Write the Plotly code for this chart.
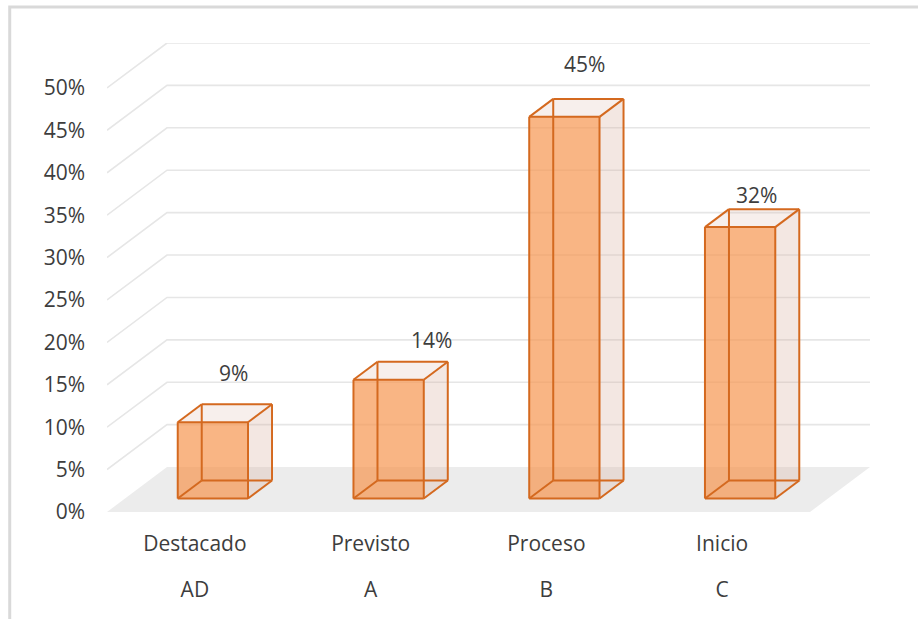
import plotly.graph_objects as go

# ---- data ----
categories = ["Destacado", "Previsto", "Proceso", "Inicio"]
levels = ["AD", "A", "B", "C"]
values = [9, 14, 45, 32]            # percent
value_labels = ["9%", "14%", "45%", "32%"]
y_ticks = [0, 5, 10, 15, 20, 25, 30, 35, 40, 45, 50]
y_tick_text = [f"{v}%" for v in y_ticks]

# ---- pseudo-3D (oblique) geometry ----
DEPTH_X = 0.3414      # horizontal shift of full floor depth, in category units
DEPTH_Y = 5.3         # vertical shift of full floor depth, in percent units
Y_MAX = 50
BAR_C0, BAR_C1 = 0.3, 0.7   # bar extent inside its category slot
BAR_D0, BAR_D1 = 0.3, 0.7   # bar extent along the depth axis
N = len(categories)

# nudges (pixels) for the value labels above each bar
label_nudge = [(-3, 31), (19, 22), (-4, 35), (-8, 14)]

EDGE = "#D4691F"
FRONT = "rgba(247,150,80,0.70)"
SIDE = "rgba(215,175,160,0.30)"
TOP = "rgba(215,175,160,0.20)"
GRID = "#e6e6e6"
FLOOR = "#ececec"
TEXT = "#3d3d3d"
FONT = "Open Sans"
FSIZE = 21


def proj(c, d, v):
    """Project (category, depth, value) onto the 2D plot plane."""
    return c + d * DEPTH_X, v + d * DEPTH_Y


def poly(points):
    xs, ys = [], []
    for c, d, v in points:
        x, y = proj(c, d, v)
        xs.append(x)
        ys.append(y)
    xs.append(xs[0])
    ys.append(ys[0])
    return xs, ys


fig = go.Figure()

# floor
fx, fy = poly([(0, 0, 0), (N, 0, 0), (N, 1, 0), (0, 1, 0)])
fig.add_trace(go.Scatter(x=fx, y=fy, fill="toself", fillcolor=FLOOR,
                         mode="lines", line=dict(width=0), hoverinfo="skip"))

# gridlines on side wall and back wall
gx, gy = [], []
for v in y_ticks[1:]:
    for c, d in [(0, 0), (0, 1), (N, 1)]:
        x, y = proj(c, d, v)
        gx.append(x)
        gy.append(y)
    gx.append(None)
    gy.append(None)
fig.add_trace(go.Scatter(x=gx, y=gy, mode="lines",
                         line=dict(color=GRID, width=1.6), hoverinfo="skip"))

# bars
for i, v in enumerate(values):
    c0, c1 = i + BAR_C0, i + BAR_C1
    d0, d1 = BAR_D0, BAR_D1

    # right side face
    sx, sy = poly([(c1, d0, 0), (c1, d1, 0), (c1, d1, v), (c1, d0, v)])
    fig.add_trace(go.Scatter(x=sx, y=sy, fill="toself", fillcolor=SIDE,
                             mode="lines", line=dict(width=0), hoverinfo="skip"))
    # top face
    tx, ty = poly([(c0, d0, v), (c1, d0, v), (c1, d1, v), (c0, d1, v)])
    fig.add_trace(go.Scatter(x=tx, y=ty, fill="toself", fillcolor=TOP,
                             mode="lines", line=dict(width=0), hoverinfo="skip"))
    # front face
    qx, qy = poly([(c0, d0, 0), (c1, d0, 0), (c1, d0, v), (c0, d0, v)])
    fig.add_trace(go.Scatter(x=qx, y=qy, fill="toself", fillcolor=FRONT,
                             mode="lines", line=dict(width=0), hoverinfo="skip"))

    # all twelve edges of the box
    corners = {}
    for a, c in (("l", c0), ("r", c1)):
        for b, d in (("f", d0), ("b", d1)):
            for h, val in (("0", 0), ("1", v)):
                corners[a + b + h] = proj(c, d, val)
    edges = [
        ("lf0", "rf0"), ("rf0", "rf1"), ("rf1", "lf1"), ("lf1", "lf0"),
        ("lb0", "rb0"), ("rb0", "rb1"), ("rb1", "lb1"), ("lb1", "lb0"),
        ("lf0", "lb0"), ("rf0", "rb0"), ("rf1", "rb1"), ("lf1", "lb1"),
    ]
    ex, ey = [], []
    for a, b in edges:
        ex += [corners[a][0], corners[b][0], None]
        ey += [corners[a][1], corners[b][1], None]
    fig.add_trace(go.Scatter(x=ex, y=ey, mode="lines",
                             line=dict(color=EDGE, width=2), hoverinfo="skip"))

    # value label above the bar
    lx, ly = proj(i + 0.5, d1, v)
    dx, dy = label_nudge[i]
    fig.add_annotation(x=lx, y=ly, text=value_labels[i], showarrow=False,
                       xshift=dx, yshift=dy, xanchor="center", yanchor="middle",
                       font=dict(family=FONT, size=FSIZE, color=TEXT))

cat_pos = [i + 0.5 for i in range(N)]

# frame around the chart area
fig.add_shape(type="rect", xref="paper", yref="paper",
              x0=-0.1275, x1=1.07, y0=-0.25, y1=1.077,
              line=dict(color="#d9d9d9", width=3), fillcolor="rgba(0,0,0,0)",
              layer="below")

fig.update_layout(
    width=918, height=619,
    margin=dict(l=107, r=48, t=43, b=107),
    paper_bgcolor="white", plot_bgcolor="white",
    showlegend=False,
    font=dict(family=FONT, size=FSIZE, color=TEXT),
    xaxis=dict(range=[0, N + DEPTH_X], showgrid=False, zeroline=False,
               showline=False, tickmode="array", tickvals=cat_pos,
               ticktext=categories, ticks="", ticklabelstandoff=17,
               fixedrange=True),
    xaxis2=dict(range=[0, N + DEPTH_X], overlaying="x", anchor="y",
                side="bottom", showgrid=False, zeroline=False, showline=False,
                tickmode="array", tickvals=cat_pos, ticktext=levels,
                ticks="", ticklabelstandoff=63, fixedrange=True),
    yaxis=dict(range=[0, Y_MAX + DEPTH_Y], showgrid=False, zeroline=False,
               showline=False, tickmode="array", tickvals=y_ticks,
               ticktext=y_tick_text, ticks="", ticklabelstandoff=21,
               fixedrange=True),
)

# invisible trace so the secondary category axis is rendered
fig.add_trace(go.Scatter(x=cat_pos, y=[0] * N, xaxis="x2", mode="markers",
                         marker=dict(opacity=0), hoverinfo="skip"))

fig.write_html("out.html")
